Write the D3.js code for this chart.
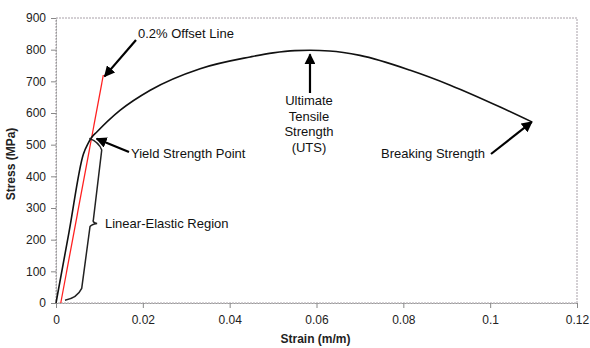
<!DOCTYPE html>
<html><head><meta charset="utf-8">
<script src="https://cdn.jsdelivr.net/npm/d3@7"></script>
<style>
body{margin:0;background:#fff;}
text{font-family:"Liberation Sans",Arial,sans-serif;}
</style></head>
<body><svg id="c" width="590" height="348"></svg>
<script>
// ---- data ----
const strain = [0, 0.0030, 0.0063, 0.0074, 0.0081, 0.0094, 0.0148, 0.0217, 0.0332, 0.0447, 0.050, 0.055, 0.0585, 0.063, 0.070, 0.0816, 0.0908, 0.1023, 0.1096];
const stress = [0, 224, 470, 504, 521, 540, 609, 672, 740, 777, 790, 797, 798, 796, 782, 735, 688, 619, 572];
const offsetStrain = [0.0011, 0.0109];
const offsetStress = [0, 720];
const xTicks = [0, 0.02, 0.04, 0.06, 0.08, 0.1, 0.12];
const xTickLabels = ["0", "0.02", "0.04", "0.06", "0.08", "0.1", "0.12"];
const yTicks = [0, 100, 200, 300, 400, 500, 600, 700, 800, 900];
// brace anchor points (strain, stress)
const braceStrain = [0.00767, 0.00985, 0.01053, 0.0086, 0.00945, 0.00783, 0.00592, 0.00438, 0.00207];
const braceStress = [520, 509, 483, 262, 251, 241, 46, 15, 9];
const xTitle = "Strain (m/m)";
const yTitle = "Stress (MPa)";

const svg = d3.select("#c");
const L = 56, R = 577, T = 18, B = 303;
const x = d3.scaleLinear().domain([0, 0.12]).range([L, R]);
const y = d3.scaleLinear().domain([0, 900]).range([B, T]);

// frame (dotted)
svg.append("rect").attr("x", L).attr("y", T).attr("width", R - L).attr("height", B - T)
  .attr("fill", "none").attr("stroke", "#a8a0a8").attr("stroke-width", 1).attr("stroke-dasharray", "2,1");

// axes
const xAxis = svg.append("g").attr("transform", `translate(0,${B})`)
  .call(d3.axisBottom(x).tickValues(xTicks).tickFormat((d, i) => xTickLabels[i]).tickSize(5).tickSizeOuter(0));
const yAxis = svg.append("g").attr("transform", `translate(${L},0)`)
  .call(d3.axisLeft(y).tickValues(yTicks).tickSize(5).tickSizeOuter(0));
[xAxis, yAxis].forEach(g => {
  g.select(".domain").attr("stroke", "#999").attr("stroke-dasharray", "2,1");
  g.selectAll(".tick line").attr("stroke", "#888");
  g.selectAll(".tick text").attr("fill", "#222").style("font-size", "12px")
    .style("font-family", '"Liberation Sans",Arial,sans-serif');
});
xAxis.selectAll(".tick text").attr("dy", "1.1em");
yAxis.selectAll(".tick text").attr("x", -10);

// titles
svg.append("text").attr("x", (L + R) / 2 - 1).attr("y", 343).attr("text-anchor", "middle")
  .style("font-size", "12px").style("font-weight", "bold").attr("fill", "#222").text(xTitle);
svg.append("text").attr("transform", `translate(15,164) rotate(-90)`).attr("text-anchor", "middle")
  .style("font-size", "12px").style("font-weight", "bold").attr("fill", "#222").text(yTitle);

// offset line
const offData = offsetStrain.map((s, i) => [s, offsetStress[i]]);
svg.append("path").datum(offData)
  .attr("d", d3.line().x(d => x(d[0])).y(d => y(d[1])))
  .attr("stroke", "#ff2020").attr("stroke-width", 1.3).attr("fill", "none");

// stress-strain curve
const data = strain.map((s, i) => [s, stress[i]]);
svg.append("path").datum(data)
  .attr("d", d3.line().x(d => x(d[0])).y(d => y(d[1])).curve(d3.curveMonotoneX))
  .attr("stroke", "#111").attr("stroke-width", 1.6).attr("fill", "none");

// brace
const bp = braceStrain.map((s, i) => [x(s), y(braceStress[i])]);
const p = d3.path();
p.moveTo(bp[0][0], bp[0][1]);
p.quadraticCurveTo(bp[1][0], bp[1][1], bp[2][0], bp[2][1]);
p.lineTo(bp[3][0], bp[3][1]);
p.quadraticCurveTo(bp[3][0] - 1, bp[4][1] - 1, bp[4][0], bp[4][1]);
p.quadraticCurveTo(bp[5][0] + 1, bp[4][1] + 1, bp[5][0], bp[5][1]);
p.lineTo(bp[6][0], bp[6][1]);
p.quadraticCurveTo(bp[7][0] + 2, bp[7][1], bp[8][0], bp[8][1]);
svg.append("path").attr("d", p.toString()).attr("stroke", "#222").attr("stroke-width", 1.5).attr("fill", "none");

// arrow marker
svg.append("defs").append("marker").attr("id", "ah").attr("viewBox", "0 0 10 10")
  .attr("refX", 9).attr("refY", 5).attr("markerWidth", 5).attr("markerHeight", 5)
  .attr("orient", "auto").attr("markerUnits", "strokeWidth")
  .append("path").attr("d", "M0,0 L10,5 L0,10 z").attr("fill", "#000");

function arrow(x1, y1, x2, y2) {
  svg.append("line").attr("x1", x1).attr("y1", y1).attr("x2", x2).attr("y2", y2)
    .attr("stroke", "#000").attr("stroke-width", 2.2).attr("marker-end", "url(#ah)");
}
function label(tx, ty, txt, anchor) {
  svg.append("text").attr("x", tx).attr("y", ty).attr("text-anchor", anchor || "start")
    .style("font-size", "13px").attr("fill", "#111").text(txt);
}

// annotations
arrow(136, 40, x(0.0112), y(722) + 2);
label(138, 38, "0.2% Offset Line");

arrow(129, 152, x(0.0089) + 2, y(522) + 1);
label(131, 158, "Yield Strength Point");

label(105, 228, "Linear-Elastic Region");

arrow(x(0.0585), 93, x(0.0585), y(798) + 4);
["Ultimate", "Tensile", "Strength", "(UTS)"].forEach((t, i) => label(x(0.0585) - 1, 105 + i * 15.5, t, "middle"));

arrow(491, 154, x(0.1096), y(572));
label(381, 158, "Breaking Strength");
</script>
</body></html>
